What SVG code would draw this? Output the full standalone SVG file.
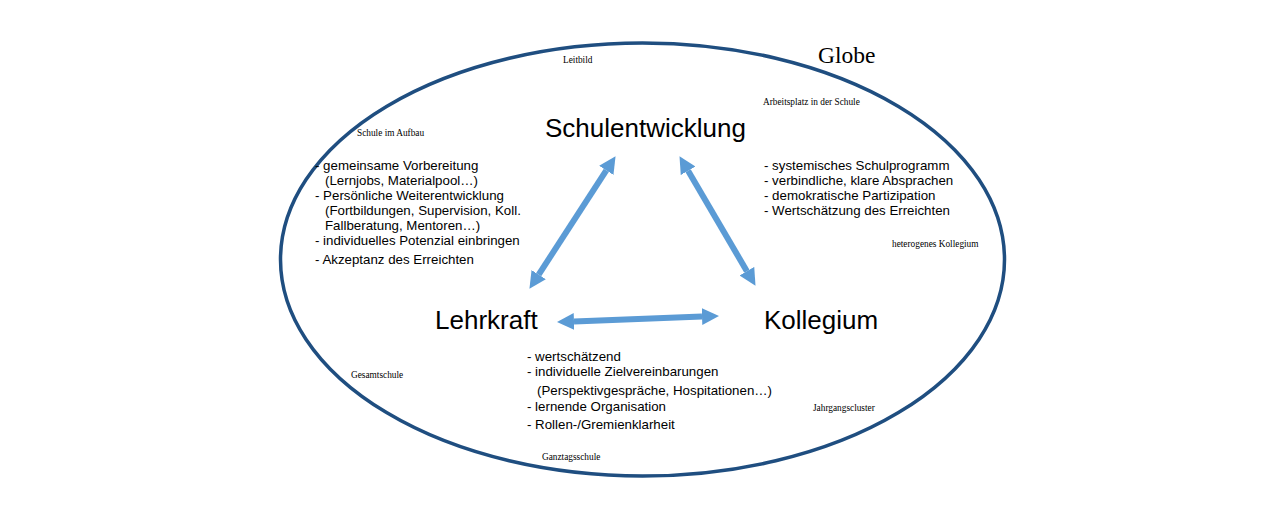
<svg xmlns="http://www.w3.org/2000/svg" width="1280" height="514" viewBox="0 0 1280 514">
<style>
.big{font-family:"Liberation Sans",Arial,sans-serif;font-size:26px;fill:#000}
.list{font-family:"Liberation Sans",Arial,sans-serif;font-size:13.3px;fill:#000}
.small{font-family:"Liberation Serif","Times New Roman",serif;font-size:9.3px;fill:#000}
.globe{font-family:"Liberation Serif","Times New Roman",serif;font-size:23.5px;fill:#000}
.arr{stroke:#5b9bd5;stroke-width:6;fill:none;marker-start:url(#ah);marker-end:url(#ah)}
</style>
<defs>
<marker id="ah" viewBox="0 0 10 10" refX="0" refY="5" markerWidth="17" markerHeight="19" markerUnits="userSpaceOnUse" orient="auto-start-reverse">
<path d="M0,0 L10,5 L0,10 z" fill="#5b9bd5"/>
</marker>
</defs>
<rect width="1280" height="514" fill="#fff"/>
<g id="globe">
<ellipse cx="642.5" cy="259.5" rx="362" ry="216.5" fill="none" stroke="#1f4e80" stroke-width="3.5"/>
<text class="globe" x="818" y="63">Globe</text>
<text class="small" x="563" y="63">Leitbild</text>
<text class="small" x="763" y="105">Arbeitsplatz in der Schule</text>
<text class="small" x="357" y="136">Schule im Aufbau</text>
<text class="small" x="892" y="247">heterogenes Kollegium</text>
<text class="small" x="351" y="378">Gesamtschule</text>
<text class="small" x="813" y="411">Jahrgangscluster</text>
<text class="small" x="542" y="460">Ganztagsschule</text>
</g>
<g id="schulentwicklung">
<text class="big" x="545" y="137">Schulentwicklung</text>
<text class="list" x="764" y="170">- systemisches Schulprogramm</text>
<text class="list" x="764" y="185">- verbindliche, klare Absprachen</text>
<text class="list" x="764" y="200">- demokratische Partizipation</text>
<text class="list" x="764" y="215">- Wertschätzung des Erreichten</text>
</g>
<g id="lehrkraft">
<text class="big" x="435" y="329">Lehrkraft</text>
<text class="list" x="315" y="170">- gemeinsame Vorbereitung</text>
<text class="list" x="325" y="185">(Lernjobs, Materialpool…)</text>
<text class="list" x="315" y="200">- Persönliche Weiterentwicklung</text>
<text class="list" x="325" y="215">(Fortbildungen, Supervision, Koll.</text>
<text class="list" x="325" y="230">Fallberatung, Mentoren…)</text>
<text class="list" x="315" y="245">- individuelles Potenzial einbringen</text>
<text class="list" x="315" y="264">- Akzeptanz des Erreichten</text>
</g>
<g id="kollegium">
<text class="big" x="764" y="329">Kollegium</text>
<text class="list" x="527" y="361">- wertschätzend</text>
<text class="list" x="527" y="376">- individuelle Zielvereinbarungen</text>
<text class="list" x="537" y="395">(Perspektivgespräche, Hospitationen…)</text>
<text class="list" x="527" y="411">- lernende Organisation</text>
<text class="list" x="527" y="429">- Rollen-/Gremienklarheit</text>
</g>
<g id="connectors">
<line class="arr" x1="538.7" y1="274.6" x2="606.3" y2="170.4"/>
<line class="arr" x1="688.1" y1="170.8" x2="746.9" y2="271.2"/>
<line class="arr" x1="574" y1="321.4" x2="702" y2="316.6"/>
</g>
</svg>
